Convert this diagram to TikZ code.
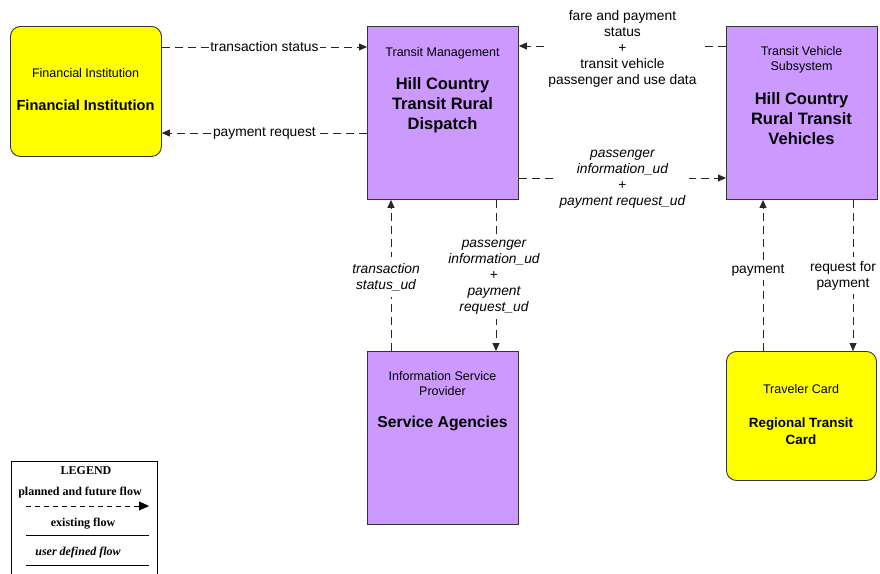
\documentclass[tikz,border=0pt]{standalone}
\usepackage{fontspec}
\setmainfont{Liberation Sans}
\newfontfamily\legfont{Liberation Serif}
\usetikzlibrary{arrows.meta}
\definecolor{extc}{HTML}{FFFF00}
\definecolor{subc}{HTML}{CC99FF}
\definecolor{edge}{HTML}{333333}
\begin{document}
\begin{tikzpicture}[x=1pt,y=-1pt,
  subbox/.style={draw=edge, line width=0.9pt, fill=subc, minimum width=151pt, minimum height=173pt, inner sep=0pt, anchor=north west},
  extbox/.style={draw=edge, line width=0.9pt, fill=extc, rounded corners=10pt, minimum width=151pt, inner sep=0pt, anchor=north west},
  typ/.style={font=\fontsize{12.5}{15}\selectfont, align=center, inner sep=0pt},
  ttl/.style={font=\fontsize{16.5}{20}\selectfont\bfseries, align=center, inner sep=0pt},
  flow/.style={draw=black!85, line width=0.8pt, dash pattern=on 8pt off 5pt, -{Triangle[length=8pt,width=7pt]}},
  lbl/.style={font=\fontsize{13.8}{16}\selectfont, align=center, fill=white, inner sep=1.5pt},
  ilbl/.style={lbl, font=\fontsize{13.8}{16}\selectfont\itshape},
  leg/.style={font=\legfont\fontsize{12}{14}\selectfont\bfseries, inner sep=0pt}
]
\useasboundingbox (0,0) rectangle (880,573);
\fill[white] (0,0) rectangle (880,573);

% boxes
\node[extbox, minimum height=130pt] (fi) at (10,26) {};
\node[subbox] (tm) at (367,26) {};
\node[subbox] (tv) at (726,26) {};
\node[subbox, minimum height=173pt] (isp) at (367,351) {};
\node[extbox, minimum height=129pt, minimum width=150pt] (card) at (726,351) {};

% box texts
\node[typ] (fit) at (85.5,73) {Financial Institution};
\node[ttl, font=\fontsize{14.6}{18}\selectfont\bfseries] (fin) at (85.5,105) {Financial Institution};
\node[typ] (tmt) at (442.5,53) {Transit Management};
\node[ttl] (tmn) at (442.5,105) {Hill Country\\Transit Rural\\Dispatch};
\node[typ] (tvt) at (801.5,59.5) {Transit Vehicle\\Subsystem};
\node[ttl] (tvn) at (801.5,119) {Hill Country\\Rural Transit\\Vehicles};
\node[typ] (ispt) at (442.5,384) {Information Service\\Provider};
\node[ttl, font=\fontsize{15.7}{19}\selectfont\bfseries] (ispn) at (442.5,423.5) {Service Agencies};
\node[typ] (cardt) at (801,389) {Traveler Card};
\node[ttl, font=\fontsize{13.4}{17}\selectfont\bfseries] (cardn) at (801,431.5) {Regional Transit\\Card};

% flows
\draw[flow] (fi.east |- 0,47) -- node[lbl, inner sep=1pt] (l1) {transaction status} (tm.west |- 0,47);
\draw[flow] (tm.west |- 0,133) -- node[lbl, inner sep=1pt] (l2) {payment request} (fi.east |- 0,133);
\draw[flow] (tv.west |- 0,46) -- node[lbl, inner sep=4pt, yshift=-3pt] (l3) {fare and payment\\status\\+\\transit vehicle\\passenger and use data} (tm.east |- 0,46);
\draw[flow] (tm.east |- 0,178) -- node[ilbl, inner sep=4pt, yshift=-1pt] (l4) {passenger\\information\_ud\\{\upshape +}\\payment request\_ud} (tv.west |- 0,178);
\draw[flow] (isp.north -| 391,0) -- node[ilbl, xshift=-5pt, yshift=-1.5pt, inner sep=6pt] (l5) {transaction\\status\_ud} (tm.south -| 391,0);
\draw[flow] (tm.south -| 496,0) -- node[ilbl, xshift=-2pt, yshift=-2pt, inner sep=4pt] (l6) {passenger\\information\_ud\\{\upshape +}\\payment\\request\_ud} (isp.north -| 496,0);
\draw[flow] (card.north -| 763,0) -- node[lbl, pos=0.546, xshift=-5pt, yshift=-1.5pt, inner sep=4pt] (l7) {payment} (tv.south -| 763,0);
\draw[flow] (tv.south -| 853,0) -- node[lbl, xshift=-10pt, inner sep=4pt] (l8) {request for\\payment} (card.north -| 853,0);

% legend
\node[draw=black, line width=0.8pt, minimum width=146pt, minimum height=130pt, inner sep=0pt, anchor=north west] (leg) at (11,461) {};
\node[leg] (legt) at (86,471) {LEGEND};
\node[leg] (leg1) at (80,493) {planned and future flow};
\coordinate (la1) at (26,506); \coordinate (la2) at (149,506);
\draw[line width=0.9pt, dash pattern=on 5pt off 4pt, -{Triangle[length=10pt,width=9pt]}] (la1) -- (la2);
\node[leg] (leg2) at (83,524) {existing flow};
\coordinate (lb1) at (26,535); \coordinate (lb2) at (149,535);
\draw[line width=0.9pt] (lb1) -- (lb2);
\node[leg, font=\legfont\fontsize{12}{14}\selectfont\bfseries\itshape] (leg3) at (78,553) {user defined flow};
\coordinate (lc1) at (26,565); \coordinate (lc2) at (149,565);
\draw[line width=0.9pt] (lc1) -- (lc2);
\end{tikzpicture}
\end{document}
